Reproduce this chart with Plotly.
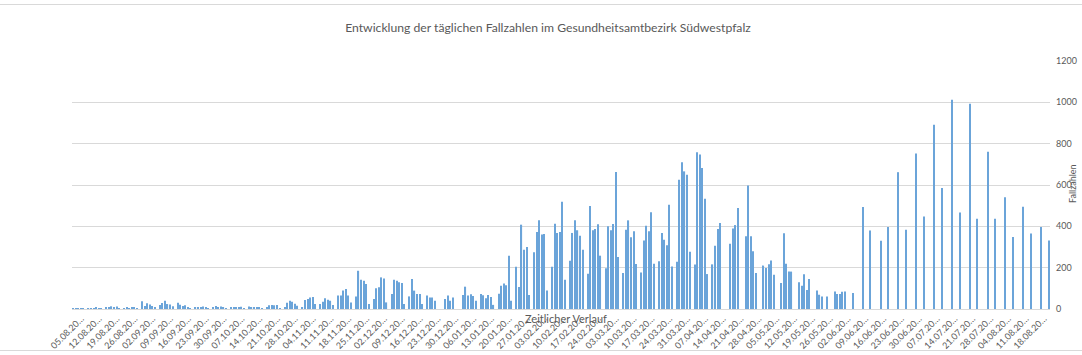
import pandas as pd
import plotly.graph_objects as go

# ---- data -------------------------------------------------------------
start_datum = "2021-08-05"
anzahl_tage = 384
kategorien = [d.strftime("%d.%m.%Y") for d in pd.date_range(start_datum, periods=anzahl_tage, freq="D")]

# daily case numbers, one row per week (Thu..Wed)
faelle = [
    2, 3, 1, 3, 2, 0, 2,
    4, 3, 5, 2, 1, 0, 6,
    10, 13, 8, 12, 3, 0, 3,
    5, 4, 6, 8, 2, 0, 38,
    15, 28, 22, 14, 6, 0, 19,
    29, 40, 24, 22, 13, 0, 30,
    20, 15, 18, 10, 4, 0, 6,
    10, 8, 12, 9, 3, 0, 10,
    14, 8, 12, 9, 4, 0, 6,
    8, 10, 7, 11, 3, 0, 12,
    9, 7, 10, 8, 3, 0, 6,
    18, 19, 18, 19, 4, 0, 10,
    30, 40, 35, 25, 16, 0, 5,
    44, 48, 56, 58, 24, 0, 24,
    35, 52, 45, 40, 19, 0, 65,
    65, 89, 97, 65, 32, 0, 61,
    185, 142, 137, 121, 24, 0, 48,
    100, 105, 153, 148, 32, 0, 73,
    142, 137, 129, 126, 24, 0, 61,
    145, 89, 73, 73, 24, 0, 65,
    56, 56, 40, 0, 0, 0, 48,
    65, 40, 56, 0, 0, 0, 68,
    108, 65, 71, 63, 40, 0, 72,
    66, 52, 68, 58, 20, 0, 74,
    113, 123, 115, 258, 40, 0, 205,
    106, 408, 287, 300, 68, 0, 274,
    373, 429, 360, 363, 89, 0, 205,
    413, 368, 373, 519, 142, 0, 234,
    368, 429, 381, 355, 287, 0, 171,
    498, 381, 387, 410, 258, 0, 197,
    400, 381, 411, 663, 252, 0, 174,
    384, 429, 347, 376, 218, 0, 177,
    331, 403, 376, 468, 219, 0, 231,
    368, 335, 308, 505, 206, 0, 229,
    626, 710, 666, 650, 277, 0, 215,
    758, 747, 682, 534, 169, 0, 216,
    306, 387, 416, 0, 0, 0, 316,
    389, 406, 489, 0, 0, 352, 597,
    352, 279, 174, 0, 0, 210, 198,
    216, 235, 166, 0, 0, 126, 366,
    219, 181, 181, 0, 0, 129, 113,
    168, 92, 145, 0, 0, 90, 69,
    61, 0, 61, 0, 0, 85, 73,
    73, 84, 85, 0, 0, 78, 0,
    0, 0, 493, 0, 0, 380, 0,
    0, 0, 330, 0, 0, 397, 0,
    0, 0, 662, 0, 0, 384, 0,
    0, 0, 753, 0, 0, 448, 0,
    0, 0, 891, 0, 0, 585, 0,
    0, 0, 1012, 0, 0, 467, 0,
    0, 0, 993, 0, 0, 437, 0,
    0, 0, 761, 0, 0, 437, 0,
    0, 0, 541, 0, 0, 348, 0,
    0, 0, 495, 0, 0, 365, 0,
    0, 0, 397, 0, 0, 332,
]

tick_labels = [
    "05.08.20…", "12.08.20…", "19.08.20…", "26.08.20…", "02.09.20…", "09.09.20…",
    "16.09.20…", "23.09.20…", "30.09.20…", "07.10.20…", "14.10.20…", "21.10.20…",
    "28.10.20…", "04.11.20…", "11.11.20…", "18.11.20…", "25.11.20…", "02.12.20…",
    "09.12.20…", "16.12.20…", "23.12.20…", "30.12.20…", "06.01.20…", "13.01.20…",
    "20.01.20…", "27.01.20…", "03.02.20…", "10.02.20…", "17.02.20…", "24.02.20…",
    "03.03.20…", "10.03.20…", "17.03.20…", "24.03.20…", "31.03.20…", "07.04.20…",
    "14.04.20…", "21.04.20…", "28.04.20…", "05.05.20…", "12.05.20…", "19.05.20…",
    "26.05.20…", "02.06.20…", "09.06.20…", "16.06.20…", "23.06.20…", "30.06.20…",
    "07.07.20…", "14.07.20…", "21.07.20…", "28.07.20…", "04.08.20…", "11.08.20…",
    "18.08.20…",
]
tick_werte = kategorien[::7][:len(tick_labels)]

titel = "Entwicklung der täglichen Fallzahlen im Gesundheitsamtbezirk Südwestpfalz"
x_titel = "Zeitlicher Verlauf"
y_titel = "Fallzahlen"

# ---- figure -----------------------------------------------------------
TXT = "#595959"
GRID = "#D9D9D9"
FONT = "Lato"

fig = go.Figure(
    go.Bar(
        x=kategorien,
        y=faelle,
        marker=dict(color="#6BA4D9", line=dict(width=0)),
        hoverinfo="x+y",
    )
)

W, H = 1082, 355
ml, mr, mt, mb = 72, 32, 61, 46
ph = H - mt - mb
pw = W - ml - mr

def py(ypx):
    return (H - mb - ypx) / ph

def px(xpx):
    return (xpx - ml) / pw

fig.update_layout(
    width=W,
    height=H,
    margin=dict(l=ml, r=mr, t=mt, b=mb, pad=0),
    paper_bgcolor="white",
    plot_bgcolor="white",
    font=dict(family=FONT, color=TXT),
    showlegend=False,
    bargap=0.55,
    title=dict(
        text=titel,
        x=548 / W,
        xanchor="center",
        y=1 - 28 / H,
        yanchor="middle",
        font=dict(family=FONT, size=12.2, color=TXT),
    ),
    xaxis=dict(
        type="category",
        range=[-0.5, anzahl_tage - 0.5],
        tickmode="array",
        tickvals=tick_werte,
        ticktext=tick_labels,
        tickangle=-45,
        tickfont=dict(family=FONT, size=9, color=TXT),
        ticklabelshift=8,
        showgrid=False,
        showline=True,
        linecolor=GRID,
        linewidth=1,
        ticks="",
        automargin=False,
    ),
    yaxis=dict(
        side="right",
        range=[0, 1200],
        dtick=200,
        tickfont=dict(family=FONT, size=9, color=TXT),
        showgrid=True,
        gridcolor=GRID,
        gridwidth=1,
        zeroline=False,
        showline=False,
        ticks="",
        ticklabelstandoff=5,
        automargin=False,
    ),
    annotations=[
        dict(
            text=x_titel, xref="paper", yref="paper",
            x=px(566), y=py(318), xanchor="center", yanchor="middle",
            showarrow=False, font=dict(family=FONT, size=11, color=TXT),
        ),
        dict(
            text=y_titel, xref="paper", yref="paper",
            x=px(1072), y=py(184), xanchor="center", yanchor="middle",
            textangle=-90, showarrow=False,
            font=dict(family=FONT, size=9, color=TXT),
        ),
    ],
    shapes=[
        dict(type="line", xref="paper", yref="paper",
             x0=px(0), x1=px(W), y0=py(4.5), y1=py(4.5),
             line=dict(color=GRID, width=1)),
        dict(type="line", xref="paper", yref="paper",
             x0=px(0), x1=px(W), y0=py(350.5), y1=py(350.5),
             line=dict(color=GRID, width=1)),
    ],
)

fig.write_html(
    "out.html",
    config={"displayModeBar": False},
    post_script="document.body.style.margin='0';document.body.style.overflow='hidden';",
)
